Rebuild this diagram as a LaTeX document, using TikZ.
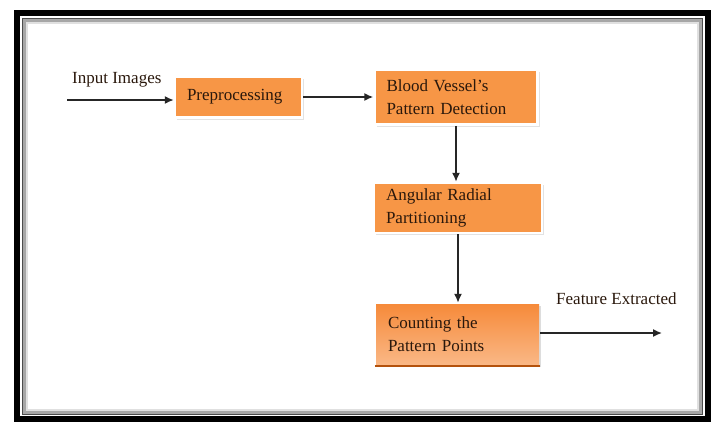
\documentclass[tikz,border=0pt]{standalone}
\usepackage{fontspec}
\setmainfont{Liberation Serif}
\usetikzlibrary{arrows.meta,shadows}
\definecolor{boxorange}{HTML}{F79646}
\definecolor{boxtop}{HTML}{F68A3A}
\definecolor{boxbot}{HTML}{FAB886}
\definecolor{boxedge}{HTML}{B4520C}
\definecolor{txt}{HTML}{2A180C}
\tikzset{
  stage/.style={rectangle, fill=boxorange, draw=white, line width=2.5pt,
    drop shadow={shadow xshift=2pt, shadow yshift=-2pt, fill=black!22},
    text=txt, align=left, inner sep=0pt,
    font=\fontsize{17}{23}\selectfont},
  lbl/.style={text=txt, inner sep=0pt, anchor=west, font=\fontsize{17}{23}\selectfont},
  flow/.style={draw=black!85, line width=1.5pt, -{Latex[length=9pt,width=8pt]}}
}
\begin{document}
\begin{tikzpicture}[x=1pt,y=-1pt]
\useasboundingbox (0,0) rectangle (714,423);
\fill[white] (0,0) rectangle (714,423);
% frame
\draw[black, line width=6pt] (17,13) rectangle (708,419);
\draw[black!35, line width=3pt] (24.5,20.5) rectangle (700.5,412.5);
\draw[black!70, line width=1pt] (22.5,18.5) rectangle (702.5,414.5);
\draw[black!12, line width=2pt] (27,23) rectangle (698,410);
% boxes
\node[stage, minimum width=127pt, minimum height=41pt, text width=103pt] (pre) at (238.5,97) {Preprocessing};
\node[stage, minimum width=163pt, minimum height=55pt, text width=139pt] (blood) at (456,97) {Blood Vessel's\\Pattern Detection};
\node[stage, minimum width=168pt, minimum height=50pt, text width=144pt] (ang) at (458,208) {Angular Radial\\Partitioning};
\node[stage, draw=none, drop shadow={shadow xshift=1.5pt, shadow yshift=-1.5pt, fill=black!15},
  top color=boxtop, bottom color=boxbot, minimum width=163pt, minimum height=61pt, text width=139pt] (cnt) at (457.5,334.5) {Counting the\\Pattern Points};
\draw[boxedge, line width=2pt] (cnt.south west) -- (cnt.south east);
% labels
\node[lbl] (inl) at (72,80) {Input Images};
\node[lbl] (outl) at (556,299) {Feature Extracted};
% connectors
\coordinate (in) at (67,100);
\coordinate (out) at (662,333);
\draw[flow] (in) -- (pre.west |- in);
\draw[flow] (pre.east) -- (blood.west);
\draw[flow] (blood.south) -- (blood.south |- ang.north);
\draw[flow] (ang.south) -- (ang.south |- cnt.north);
\draw[flow] (cnt.east |- out) -- (out);
\end{tikzpicture}
\end{document}
